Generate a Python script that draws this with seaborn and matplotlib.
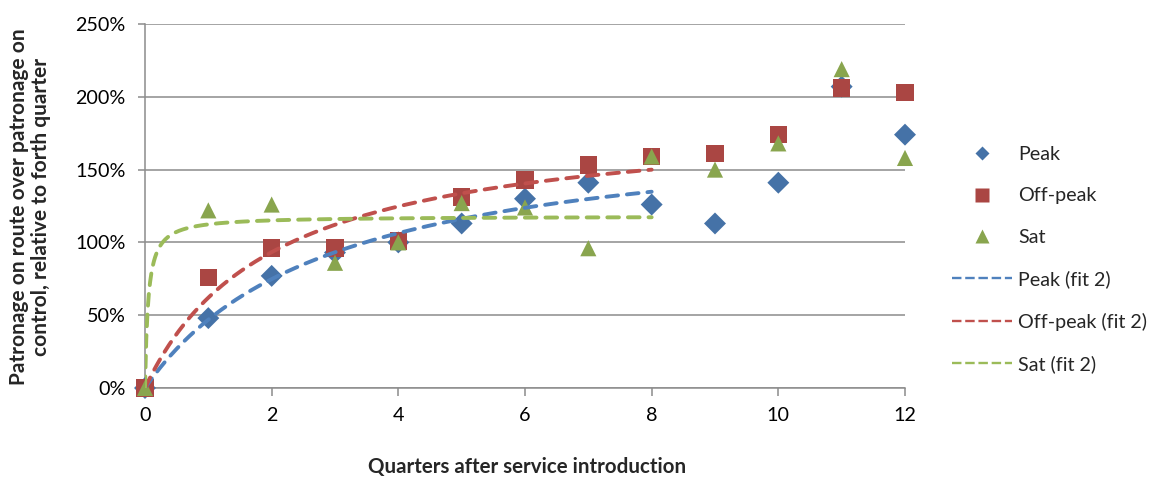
import numpy as np
import pandas as pd
import matplotlib
matplotlib.use("Agg")
import matplotlib.pyplot as plt
from matplotlib.lines import Line2D
from matplotlib.ticker import FuncFormatter, MultipleLocator
import seaborn as sns

# Quarters after the new service started
quarters = list(range(13))

# Patronage ratio (route / control), relative to the fourth quarter, in %
peak = [0, 48, 77, 93, 100, 113, 130, 141, 126, 113, 141, 207, 174]
offpeak = [0, 76, 96, 96, 101, 131, 143, 153, 159, 161, 174, 206, 203]
sat = [0, 122, 126, 86, 100, 127, 124, 96, 159, 150, 168, 219, 158]

# Saturating fit y = a * x / (b + x), fitted over quarters 0-8
fit_end = 8
peak_fit = (184.0, 2.92)
offpeak_fit = (188.0, 2.03)
sat_fit = (118.0, 0.05)

series_names = ["Peak", "Off-peak", "Sat"]
marker_colors = ["#4572A7", "#AA4643", "#89A54E"]
line_colors = ["#4F81BD", "#C0504D", "#9BBB59"]
markers = ["D", "s", "^"]
marker_sizes = [125, 160, 135]

sns.set_style("white")
plt.rcParams["font.family"] = ["Lato", "DejaVu Sans"]

FS = 14.2

fig = plt.figure(figsize=(11.52, 4.78), dpi=100)
ax = fig.add_axes([145 / 1152, 1 - 388 / 478, 760 / 1152, 364 / 478])

df = pd.DataFrame({"quarter": quarters, "Peak": peak, "Off-peak": offpeak, "Sat": sat})

for name, col, mk, sz in zip(series_names, marker_colors, markers, marker_sizes):
    sns.scatterplot(data=df, x="quarter", y=name, ax=ax, marker=mk, s=sz,
                    color=col, linewidth=0, edgecolor="none", clip_on=False,
                    zorder=3, legend=False)

xf = np.linspace(0, fit_end, 400)
for (a, b), col in zip([peak_fit, offpeak_fit, sat_fit], line_colors):
    yf = a * xf / (b + xf)
    sns.lineplot(x=xf, y=yf, ax=ax, color=col, linewidth=2.8,
                 linestyle=(0, (3.0, 2.3)), dash_capstyle="round",
                 zorder=4, legend=False)

ax.set_xlim(0, 12)
ax.set_ylim(0, 250)
ax.xaxis.set_major_locator(MultipleLocator(2))
ax.yaxis.set_major_locator(MultipleLocator(50))
ax.yaxis.set_major_formatter(FuncFormatter(lambda v, p: f"{v:.0f}%"))

grid_col = "#8c8c8c"
ax.grid(axis="y", color=grid_col, linewidth=1.1)
ax.grid(axis="x", visible=False)
ax.set_axisbelow(True)
for side in ["top", "right"]:
    ax.spines[side].set_visible(False)
for side in ["left", "bottom"]:
    ax.spines[side].set_color(grid_col)
    ax.spines[side].set_linewidth(1.1)

ax.tick_params(axis="x", direction="out", length=6, width=1.1, color=grid_col,
               pad=8, labelsize=FS, labelcolor="black", bottom=True)
ax.tick_params(axis="y", direction="out", length=5, width=1.1, color=grid_col,
               pad=9, labelsize=FS, labelcolor="black", left=True)
ax.set_xlabel("")
ax.set_ylabel("")

fig.text(527 / 1152, 1 - 467 / 478, "Quarters after service introduction",
         ha="center", va="center", fontsize=FS + 0.6, fontweight="bold")
fig.text(30 / 1152, 1 - 207 / 478,
         "Patronage on route over patronage on\ncontrol, relative to forth quarter",
         ha="center", va="center", rotation=90, fontsize=FS + 0.8,
         fontweight="bold", linespacing=1.1)

handles = []
for name, col, mk, ms in zip(series_names, marker_colors, markers, [7.2, 10.5, 10.5]):
    handles.append(Line2D([], [], linestyle="none", marker=mk, markersize=ms,
                          markerfacecolor=col, markeredgecolor="none", label=name))
for name, col in zip(series_names, line_colors):
    handles.append(Line2D([], [], color=col, linewidth=1.7,
                          linestyle=(0, (4, 1.6)), label=f"{name} (fit 2)"))

fig.legend(handles=handles, loc="upper left",
           bbox_to_anchor=(952 / 1152, 1 - 146 / 478), frameon=False,
           fontsize=FS, borderpad=0, borderaxespad=0, handlelength=3.05,
           handletextpad=0.32, labelspacing=1.24)

fig.savefig("out.png", dpi=100)
